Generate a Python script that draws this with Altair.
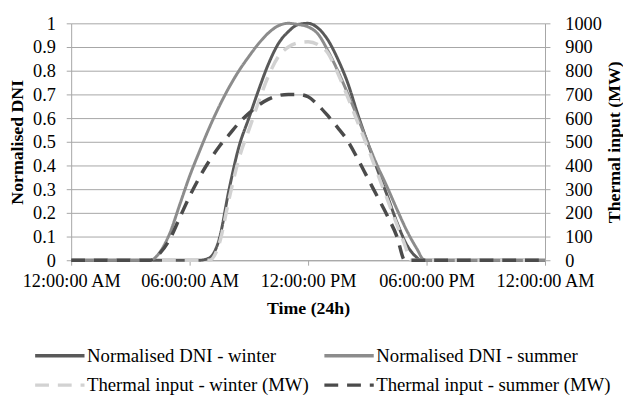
import altair as alt
import pandas as pd

# ---- series (hours of day) ----
series_names = ["Normalised DNI - winter", "Normalised DNI - summer",
                "Thermal input - winter (MW)", "Thermal input - summer (MW)"]
series_colors = ["#595959", "#8c8c8c", "#d2d2d2", "#4b4b4b"]
series_dash = [[1, 0], [1, 0], [14, 9], [14, 9]]

dni_winter_h = [0, 6.5, 7.0, 7.5, 8.0, 8.5, 9.0, 9.5, 10.0, 10.5, 11.0, 11.5, 12.0,
                12.5, 13.0, 13.5, 14.0, 14.5, 15.0, 15.5, 16.0, 16.5, 17.0, 17.5, 17.7, 24]
dni_winter_v = [0, 0, 0.01, 0.09, 0.30, 0.48, 0.60, 0.72, 0.83, 0.915, 0.965, 0.995, 1.0,
                0.98, 0.93, 0.85, 0.75, 0.62, 0.50, 0.385, 0.275, 0.16, 0.065, 0.012, 0, 0]

dni_summer_h = [0, 4.0, 4.5, 5.0, 5.5, 6.0, 6.5, 7.0, 7.5, 8.0, 8.5, 9.0, 9.5, 10.0, 10.5,
                11.0, 11.5, 12.0, 12.5, 13.0, 13.5, 14.0, 14.5, 15.0, 15.5, 16.0, 16.5,
                17.0, 17.5, 17.9, 24]
dni_summer_v = [0, 0, 0.035, 0.115, 0.235, 0.355, 0.46, 0.56, 0.65, 0.73, 0.80, 0.86, 0.915,
                0.96, 0.99, 1.0, 0.995, 0.985, 0.955, 0.885, 0.80, 0.705, 0.605, 0.50, 0.40,
                0.31, 0.215, 0.125, 0.05, 0, 0]

th_winter_h = [0, 7.0, 7.5, 8.0, 8.5, 9.0, 9.5, 10.0, 10.5, 11.0, 11.5, 12.0, 12.5, 13.0,
               13.5, 14.0, 14.5, 15.0, 15.5, 16.0, 16.5, 17.0, 17.15, 24]
th_winter_mw = [0, 0, 70, 260, 430, 550, 670, 780, 860, 900, 918, 922, 910, 875,
                790, 690, 585, 480, 370, 260, 150, 40, 0, 0]

th_summer_h = [0, 4.0, 4.5, 5.0, 5.5, 6.0, 6.5, 7.0, 7.5, 8.0, 8.5, 9.0, 9.5, 10.0, 10.5,
               11.0, 11.5, 12.0, 12.5, 13.0, 13.5, 14.0, 14.5, 15.0, 15.5, 16.0, 16.5, 16.9, 24]
th_summer_mw = [0, 0, 30, 90, 180, 270, 350, 420, 480, 530, 580, 620, 655, 680, 695,
                700, 700, 690, 655, 610, 560, 505, 430, 350, 270, 190, 100, 0, 0]

# ---- axis ticks ----
x_tick_values = [0, 6, 12, 18, 24]
x_tick_labels = ["12:00:00 AM", "06:00:00 AM", "12:00:00 PM", "06:00:00 PM", "12:00:00 AM"]
y_left_ticks = [0, 0.1, 0.2, 0.3, 0.4, 0.5, 0.6, 0.7, 0.8, 0.9, 1.0]
y_right_ticks = [0, 100, 200, 300, 400, 500, 600, 700, 800, 900, 1000]

rows = []
for name, hs, vs in [(series_names[0], dni_winter_h, dni_winter_v),
                     (series_names[1], dni_summer_h, dni_summer_v),
                     (series_names[2], th_winter_h, th_winter_mw),
                     (series_names[3], th_summer_h, th_summer_mw)]:
    for h, v in zip(hs, vs):
        rows.append({"series": name, "hour": h, "value": v})
df = pd.DataFrame(rows)

label_expr = " : ".join(f"datum.value == {v} ? '{l}'" for v, l in zip(x_tick_values, x_tick_labels)) + " : ''"

FONT = "Liberation Serif"
GRAY = "#a6a6a6"

legend_spec = alt.Legend(
    title=None, orient="none", legendX=-21, legendY=327, columns=2, direction="horizontal",
    symbolType="M-5,0H5", symbolSize=100, symbolStrokeWidth=3.5,
    labelFont=FONT, labelFontSize=19, labelColor="black", labelLimit=400,
    columnPadding=8, rowPadding=10, labelOffset=18,
)

color = alt.Color("series:N", scale=alt.Scale(domain=series_names, range=series_colors),
                  legend=legend_spec)
dash = alt.StrokeDash("series:N", scale=alt.Scale(domain=series_names, range=series_dash),
                      legend=legend_spec)

x_enc = alt.X("hour:Q", scale=alt.Scale(domain=[0, 24], nice=False),
              axis=alt.Axis(values=x_tick_values, labelExpr=label_expr, title="Time (24h)",
                            grid=False, labelFlush=False, labelOverlap=False,
                            labelPadding=7, titlePadding=9))

dni_layer = alt.Chart(df).transform_filter(
    alt.FieldOneOfPredicate(field="series", oneOf=series_names[:2])
).mark_line(strokeWidth=3, interpolate="monotone").encode(
    x=x_enc,
    y=alt.Y("value:Q", scale=alt.Scale(domain=[0, 1], nice=False),
            axis=alt.Axis(values=y_left_ticks, format=".1~f", title="Normalised DNI",
                          grid=True, orient="left", labelPadding=11, titlePadding=6)),
    color=color, strokeDash=dash,
)

th_layer = alt.Chart(df).transform_filter(
    alt.FieldOneOfPredicate(field="series", oneOf=series_names[2:])
).mark_line(strokeWidth=3.5, interpolate="monotone").encode(
    x=x_enc,
    y=alt.Y("value:Q", scale=alt.Scale(domain=[0, 1000], nice=False),
            axis=alt.Axis(values=y_right_ticks, format="d", title="Thermal input (MW)",
                          grid=False, orient="right", titleAngle=270,
                          labelPadding=15, titlePadding=22)),
    color=color, strokeDash=dash,
)

chart = alt.layer(dni_layer, th_layer).resolve_scale(y="independent").properties(
    width=480, height=240,
    autosize=alt.AutoSizeParams(type="none"),
    padding={"left": 64, "top": 13, "right": 79, "bottom": 135},
).configure_view(stroke=None).configure_axis(
    labelFont=FONT, labelFontSize=18.5, labelColor="black",
    titleFont=FONT, titleFontSize=18, titleFontWeight="bold", titleColor="black",
    domainColor=GRAY, tickColor=GRAY, gridColor=GRAY, tickSize=5,
    domainWidth=1, gridWidth=1,
)

chart.save("out.html", embed_options={"renderer": "svg", "actions": False})
